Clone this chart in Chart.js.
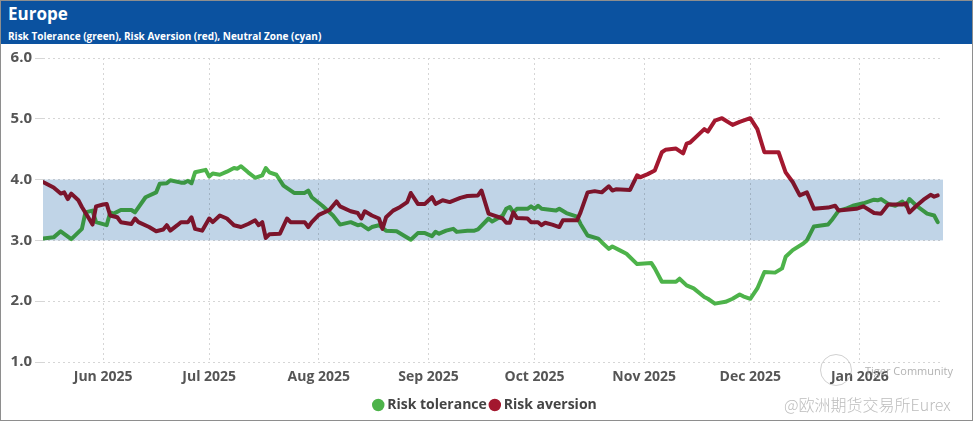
<!DOCTYPE html>
<html>
<head>
<meta charset="utf-8">
<script src="https://cdn.jsdelivr.net/npm/chart.js@4/dist/chart.umd.min.js"></script>
<style>
html,body{margin:0;padding:0;background:#fff;}
#frame{position:absolute;left:0;top:0;width:971px;height:419px;border:1px solid #8e8e8e;background:#fff;overflow:hidden;font-family:'Open Sans',sans-serif;}
#hdr{position:absolute;left:0;top:0;width:971px;height:43px;background:#0b52a0;color:#fff;}
#title{position:absolute;left:7px;top:2px;font-size:17px;font-weight:700;line-height:22px;}
#sub{position:absolute;left:7px;top:28px;font-size:10px;font-weight:700;line-height:14px;}
#wrap{position:absolute;left:0;top:43px;width:971px;height:378px;}
#wm1{position:absolute;left:783px;top:392px;font-family:'Noto Sans CJK SC',sans-serif;font-size:16px;font-weight:300;color:#bdbdbd;line-height:22px;}
#wm2{position:absolute;left:864px;top:362px;font-family:'Open Sans',sans-serif;font-size:11px;color:rgba(165,165,165,0.85);line-height:16px;}
#logo{position:absolute;left:819px;top:353px;width:30px;height:30px;border:1.5px solid rgba(170,170,170,0.55);border-radius:50%;}
</style>
</head>
<body>
<div id="frame">
  <div id="hdr">
    <div id="title">Europe</div>
    <div id="sub">Risk Tolerance (green), Risk Aversion (red), Neutral Zone (cyan)</div>
  </div>
  <div id="wrap"><canvas id="c"></canvas></div>
  <div id="logo"></div>
  <div id="wm2">Tiger Community</div>
  <div id="wm1">@欧洲期货交易所Eurex</div>
</div>
<script>
// ---- data ----
const toleranceDates = [
 '2025-05-15','2025-05-18','2025-05-20','2025-05-23','2025-05-26','2025-05-27','2025-05-29','2025-05-30',
 '2025-06-02','2025-06-03','2025-06-04','2025-06-06','2025-06-09','2025-06-10','2025-06-13','2025-06-16',
 '2025-06-17','2025-06-19','2025-06-20','2025-06-23','2025-06-24','2025-06-25','2025-06-26','2025-06-27',
 '2025-06-30','2025-07-01','2025-07-02','2025-07-04','2025-07-06','2025-07-08','2025-07-09','2025-07-10',
 '2025-07-12','2025-07-14','2025-07-16','2025-07-17','2025-07-18','2025-07-20','2025-07-22','2025-07-25',
 '2025-07-28','2025-07-29','2025-07-30','2025-08-02','2025-08-05','2025-08-07','2025-08-10','2025-08-12',
 '2025-08-13','2025-08-15','2025-08-16','2025-08-18','2025-08-20','2025-08-23','2025-08-25','2025-08-27',
 '2025-08-29','2025-08-31','2025-09-02','2025-09-03','2025-09-04','2025-09-06','2025-09-08','2025-09-09',
 '2025-09-12','2025-09-14','2025-09-15','2025-09-18','2025-09-19','2025-09-22','2025-09-23','2025-09-24',
 '2025-09-25','2025-09-26','2025-09-29','2025-09-30','2025-10-01','2025-10-02','2025-10-03','2025-10-07',
 '2025-10-08','2025-10-10','2025-10-13','2025-10-14','2025-10-16','2025-10-19','2025-10-20','2025-10-22',
 '2025-10-23','2025-10-25','2025-10-27','2025-10-30','2025-11-03','2025-11-04','2025-11-06','2025-11-10',
 '2025-11-11','2025-11-13','2025-11-15','2025-11-18','2025-11-19','2025-11-21','2025-11-24','2025-11-26',
 '2025-11-28','2025-11-29','2025-12-01','2025-12-03','2025-12-05','2025-12-08','2025-12-10','2025-12-11',
 '2025-12-13','2025-12-16','2025-12-17','2025-12-19','2025-12-23','2025-12-24','2025-12-26','2025-12-28',
 '2025-12-30','2026-01-02','2026-01-05','2026-01-06','2026-01-07','2026-01-09','2026-01-11','2026-01-13',
 '2026-01-14','2026-01-15','2026-01-17','2026-01-20','2026-01-22','2026-01-23'
];
const toleranceValues = [
 3.03,3.05,3.15,3.02,3.19,3.46,3.49,3.30,
 3.25,3.46,3.44,3.50,3.50,3.46,3.71,3.79,
 3.93,3.94,3.99,3.95,3.95,3.98,3.94,4.12,
 4.16,4.05,4.10,4.08,4.13,4.19,4.18,4.22,
 4.12,4.03,4.07,4.19,4.12,4.08,3.90,3.78,
 3.78,3.82,3.71,3.57,3.41,3.26,3.30,3.25,
 3.26,3.18,3.22,3.25,3.16,3.15,3.08,3.01,
 3.12,3.12,3.07,3.14,3.11,3.16,3.19,3.14,
 3.16,3.16,3.18,3.36,3.31,3.41,3.52,3.55,
 3.46,3.52,3.52,3.56,3.52,3.57,3.52,3.49,
 3.52,3.45,3.39,3.27,3.08,3.03,2.97,2.86,
 2.90,2.84,2.78,2.61,2.63,2.54,2.32,2.32,
 2.37,2.26,2.21,2.07,2.04,1.96,1.99,2.04,
 2.11,2.08,2.04,2.21,2.48,2.47,2.54,2.73,
 2.84,2.95,3.00,3.23,3.26,3.33,3.49,3.52,
 3.57,3.61,3.67,3.66,3.68,3.60,3.57,3.64,
 3.57,3.68,3.57,3.44,3.41,3.30
];
const aversionDates = [
 '2025-05-15','2025-05-18','2025-05-20','2025-05-21','2025-05-22','2025-05-23','2025-05-25','2025-05-26',
 '2025-05-28','2025-05-29','2025-05-30','2025-06-01','2025-06-02','2025-06-03','2025-06-05','2025-06-06',
 '2025-06-09','2025-06-10','2025-06-11','2025-06-14','2025-06-16','2025-06-18','2025-06-19','2025-06-20',
 '2025-06-22','2025-06-23','2025-06-25','2025-06-26','2025-06-27','2025-06-29','2025-07-01','2025-07-02',
 '2025-07-04','2025-07-06','2025-07-08','2025-07-10','2025-07-12','2025-07-14','2025-07-15','2025-07-16',
 '2025-07-17','2025-07-18','2025-07-21','2025-07-23','2025-07-24','2025-07-28','2025-07-29','2025-07-30',
 '2025-08-01','2025-08-04','2025-08-06','2025-08-07','2025-08-10','2025-08-12','2025-08-13','2025-08-14',
 '2025-08-16','2025-08-18','2025-08-19','2025-08-20','2025-08-22','2025-08-24','2025-08-26','2025-08-27',
 '2025-08-29','2025-08-31','2025-09-02','2025-09-03','2025-09-05','2025-09-07','2025-09-10','2025-09-12',
 '2025-09-15','2025-09-16','2025-09-18','2025-09-19','2025-09-22','2025-09-23','2025-09-24','2025-09-25',
 '2025-09-26','2025-09-29','2025-09-30','2025-10-02','2025-10-03','2025-10-04','2025-10-06','2025-10-08',
 '2025-10-09','2025-10-13','2025-10-14','2025-10-16','2025-10-18','2025-10-20','2025-10-22','2025-10-23',
 '2025-10-24','2025-10-28','2025-10-30','2025-10-31','2025-11-02','2025-11-04','2025-11-06','2025-11-07',
 '2025-11-10','2025-11-12','2025-11-13','2025-11-14','2025-11-18','2025-11-19','2025-11-21','2025-11-23',
 '2025-11-26','2025-11-28','2025-12-01','2025-12-03','2025-12-05','2025-12-09','2025-12-11','2025-12-13',
 '2025-12-15','2025-12-17','2025-12-19','2025-12-23','2025-12-25','2025-12-26','2025-12-31','2026-01-02',
 '2026-01-05','2026-01-07','2026-01-09','2026-01-13','2026-01-14','2026-01-15','2026-01-17','2026-01-19',
 '2026-01-21','2026-01-22','2026-01-23'
];
const aversionValues = [
 3.96,3.87,3.77,3.79,3.68,3.77,3.66,3.55,
 3.36,3.26,3.56,3.59,3.60,3.41,3.38,3.30,
 3.27,3.36,3.30,3.22,3.15,3.18,3.25,3.16,
 3.25,3.30,3.30,3.38,3.19,3.16,3.36,3.30,
 3.41,3.36,3.25,3.22,3.27,3.33,3.25,3.30,
 3.04,3.10,3.11,3.36,3.30,3.30,3.22,3.30,
 3.42,3.50,3.64,3.56,3.48,3.45,3.36,3.48,
 3.41,3.36,3.19,3.38,3.49,3.55,3.63,3.78,
 3.60,3.60,3.71,3.60,3.66,3.63,3.70,3.73,
 3.74,3.82,3.44,3.42,3.36,3.29,3.29,3.46,
 3.37,3.36,3.30,3.30,3.25,3.29,3.26,3.22,
 3.33,3.33,3.46,3.79,3.81,3.79,3.89,3.82,
 3.84,3.83,4.07,4.04,4.09,4.15,4.45,4.49,
 4.51,4.43,4.59,4.61,4.83,4.79,4.97,5.01,
 4.90,4.95,5.01,4.83,4.45,4.45,4.12,3.96,
 3.74,3.79,3.52,3.54,3.57,3.49,3.52,3.56,
 3.45,3.44,3.59,3.59,3.61,3.46,3.57,3.67,
 3.75,3.72,3.74
];
const neutralZone = [3.0, 4.0];
const monthTicks = ['2025-06-01','2025-07-01','2025-08-01','2025-09-01','2025-10-01','2025-11-01','2025-12-01','2026-01-01'];
const monthLabels = ['Jun 2025','Jul 2025','Aug 2025','Sep 2025','Oct 2025','Nov 2025','Dec 2025','Jan 2026'];
const yTicks = [1, 2, 3, 4, 5, 6];
const seriesLabels = ['Risk tolerance', 'Risk aversion'];

// ---- helpers ----
const dayNum = s => { const [y, m, d] = s.split('-').map(Number); return (Date.UTC(y, m - 1, d) - Date.UTC(2025, 0, 1)) / 864e5; };
const pts = (dates, vals) => dates.map((d, i) => ({ x: dayNum(d), y: vals[i] }));
const GREEN = '#4db34a', RED = '#a3182f', BAND = '#c0d4e7';

const bandPlugin = {
  id: 'neutralBand',
  afterDatasetsDraw(chart) {
    const { ctx, chartArea: a, scales: { y } } = chart;
    const top = y.getPixelForValue(neutralZone[1]);
    const bot = y.getPixelForValue(neutralZone[0]);
    ctx.save();
    ctx.globalCompositeOperation = 'multiply';
    ctx.fillStyle = BAND;
    ctx.fillRect(a.left, top, a.right - a.left, bot - top);
    ctx.restore();
  }
};

const tickFont = { family: 'Open Sans', size: 14, weight: 'bold' };

new Chart(document.getElementById('c'), {
  type: 'line',
  data: {
    datasets: [
      { label: seriesLabels[0], data: pts(toleranceDates, toleranceValues), borderColor: GREEN, backgroundColor: GREEN,
        borderWidth: 4, pointRadius: 0, pointStyle: 'circle', tension: 0, order: 2, borderJoinStyle: 'round', borderCapStyle: 'round' },
      { label: seriesLabels[1], data: pts(aversionDates, aversionValues), borderColor: RED, backgroundColor: RED,
        borderWidth: 4, pointRadius: 0, pointStyle: 'circle', tension: 0, order: 1, borderJoinStyle: 'round', borderCapStyle: 'round' }
    ]
  },
  options: {
    responsive: true,
    maintainAspectRatio: false,
    animation: false,
    layout: { padding: { top: 14, right: 0, bottom: 0, left: 0 } },
    scales: {
      x: {
        type: 'linear',
        min: dayNum('2025-05-15'),
        max: dayNum('2026-01-24') + 0.5,
        afterBuildTicks: s => { s.ticks = monthTicks.map(d => ({ value: dayNum(d) })); },
        afterFit: s => { s.height = 30; },
        ticks: { autoSkip: false, maxRotation: 0, padding: 7, color: '#555', font: tickFont,
                 callback: (v, i) => monthLabels[i] },
        grid: { color: '#d6d6d6', drawTicks: false, lineWidth: 1 },
        border: { display: false, dash: [2, 3] }
      },
      y: {
        min: yTicks[0], max: yTicks[yTicks.length - 1],
        afterBuildTicks: s => { s.ticks = yTicks.map(v => ({ value: v })); },
        afterFit: s => { s.width = 42; },
        ticks: { color: '#555', font: { family: 'Open Sans', size: 15, weight: 'bold' }, padding: 3,
                 callback: v => Number(v).toFixed(1) },
        grid: { color: '#d6d6d6', tickLength: 8, lineWidth: 1 },
        border: { display: false, dash: [2, 3] }
      },
      yRight: {
        position: 'right',
        min: yTicks[0], max: yTicks[yTicks.length - 1],
        afterFit: s => { s.width = 29; },
        ticks: { display: false },
        grid: { display: false, drawTicks: false },
        border: { display: false }
      }
    },
    plugins: {
      legend: {
        position: 'bottom',
        labels: { usePointStyle: true, boxWidth: 4, boxHeight: 6, padding: 6, color: '#444',
                  font: { family: 'Open Sans', size: 14, weight: 'bold' },
                  sort: (a, b) => a.datasetIndex - b.datasetIndex }
      },
      tooltip: { enabled: false }
    }
  },
  plugins: [bandPlugin]
});
</script>
</body>
</html>
